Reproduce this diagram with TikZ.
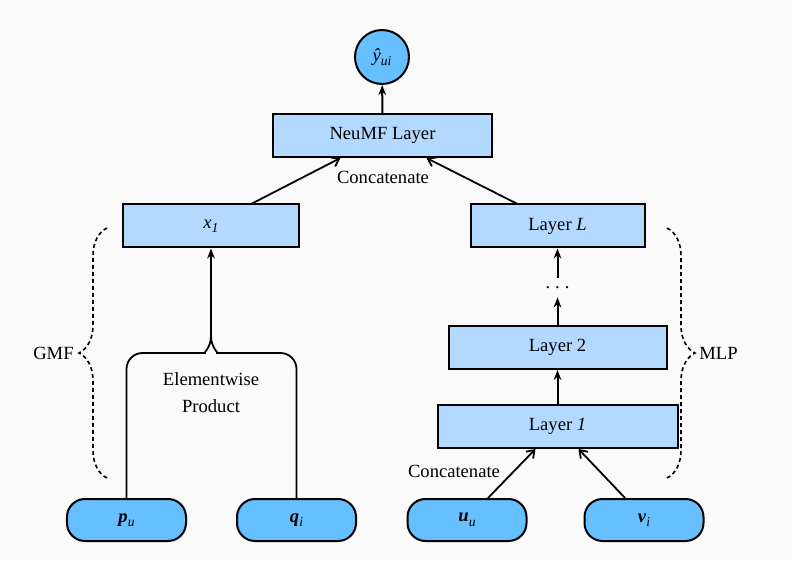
\documentclass[tikz,border=0pt]{standalone}
\usepackage{fontspec}
\setmainfont{Liberation Serif}
\usetikzlibrary{arrows.meta,calc,decorations.pathreplacing}
\definecolor{lyrfill}{RGB}{179,217,255}
\definecolor{embfill}{RGB}{102,191,255}
\definecolor{bgfill}{RGB}{250,250,250}
\newcommand{\lowsub}[1]{\raisebox{-2.2bp}{\fontsize{6.8bp}{7bp}\selectfont\mdseries\itshape #1}}
\tikzset{
  lyr/.style={draw,rectangle,line width=1bp,fill=lyrfill,minimum height=21.5bp,inner sep=0pt},
  emb/.style={draw,rectangle,rounded corners=9bp,line width=1bp,fill=embfill,minimum width=59.5bp,minimum height=21bp,inner sep=0pt},
  outc/.style={draw,circle,line width=1bp,fill=embfill,minimum size=27bp,inner sep=0pt},
  arr/.style={-{Stealth[length=5bp,width=3.8bp]},line width=1bp},
  carr/.style={-{Straight Barb[length=3.5bp,width=5bp]},line width=0.9bp},
  wire/.style={line width=0.9bp},
  brc/.style={decorate,decoration={brace,amplitude=14bp},line width=0.8bp,dash pattern=on 2bp off 1.5bp},
  lbl/.style={align=center,inner sep=1bp}
}

\begin{document}
\begin{tikzpicture}[x=0.5bp,y=-0.5bp,font=\fontsize{9.3bp}{11bp}\selectfont]
  \fill[bgfill] (0,0) rectangle (792,561);
  \useasboundingbox (0,0) rectangle (792,561);

  % output and fusion
  \node[outc] (yhat) at (382,57) {\itshape ŷ\lowsub{ui}};
  \node[lyr,minimum width=109.5bp] (neumf) at (382.5,135.5) {NeuMF Layer};
  \node[lbl] (cattop) at (383,177) {Concatenate};

  % GMF branch
  \node[lyr,minimum width=88bp] (xone) at (211,226) {\itshape x\lowsub{1}};
  \coordinate (merge) at (211,336);
  \node[lbl,font=\fontsize{9.3bp}{13.5bp}\selectfont] (prod) at (211,393) {Elementwise\\Product};

  % MLP branch
  \node[lyr,minimum width=87bp] (layL) at (557.5,226) {Layer \textit{L}};
  \node[inner sep=0pt,minimum height=9.5bp] (dots) at (557.5,287.5) {.\hspace{2.5bp}.\hspace{2.5bp}.};
  \node[lyr,minimum width=109bp] (layTwo) at (557.5,347.5) {Layer 2};
  \node[lyr,minimum width=120bp] (layOne) at (557.5,426.5) {Layer \textit{1}};
  \node[lbl] (catbot) at (454,471) {Concatenate};

  % inputs
  \node[emb] (pu) at (126.5,520) {\textbf{\textit{p}}\lowsub{u}};
  \node[emb] (qi) at (296.5,520) {\textbf{\textit{q}}\lowsub{i}};
  \node[emb] (uu) at (467,520) {\textbf{\textit{u}}\lowsub{u}};
  \node[emb] (vi) at (644,520) {\textbf{\textit{v}}\lowsub{i}};

  % connectors
  \draw[arr] (neumf) -- (yhat);
  \draw[carr] ([xshift=20.5bp]xone.north) -- ([xshift=-21bp]neumf.south);
  \draw[carr] ([xshift=-20.5bp]layL.north) -- ([xshift=22bp]neumf.south);
  \draw[wire] (pu.north) [rounded corners=8bp] |- ($(merge)+(-22,17)$) [sharp corners]
    .. controls ($(merge)+(-8,17)$) and ($(merge)+(0,12)$) .. (merge);
  \draw[wire] (qi.north) [rounded corners=8bp] |- ($(merge)+(22,17)$) [sharp corners]
    .. controls ($(merge)+(8,17)$) and ($(merge)+(0,12)$) .. (merge);
  \draw[arr] (merge) -- (xone);
  \draw[carr] ([xshift=10.5bp]uu.north) -- ([xshift=-11bp]layOne.south);
  \draw[carr] ([xshift=-9.5bp]vi.north) -- ([xshift=10.5bp]layOne.south);
  \draw[arr] (layOne) -- (layTwo);
  \draw[arr] (layTwo) -- (dots);
  \draw[arr] (dots) -- (layL);

  % braces
  \draw[brc] (107,478) -- (107,228);
  \node[lbl,anchor=east] (gmf) at (76,353) {GMF};
  \draw[brc] (667,228) -- (667,478);
  \node[lbl,anchor=west] (mlp) at (697,353) {MLP};
\end{tikzpicture}
\end{document}
